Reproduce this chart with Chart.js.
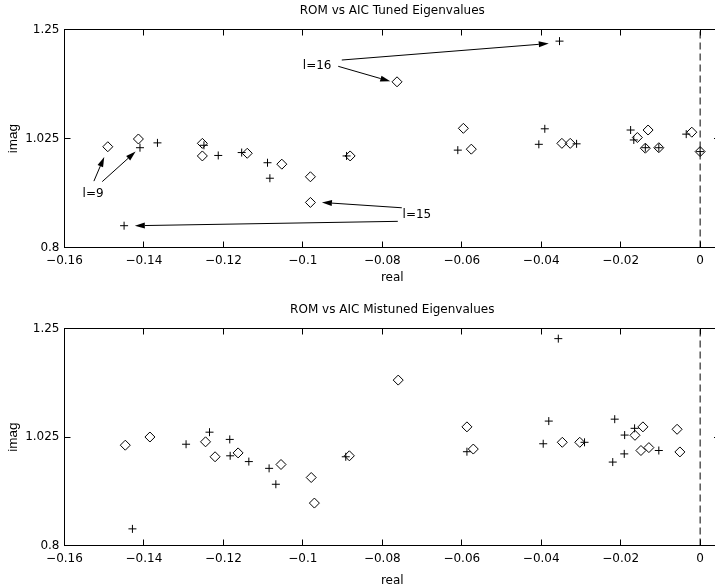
<!DOCTYPE html>
<html>
<head>
<meta charset="utf-8">
<script src="https://cdn.jsdelivr.net/npm/chart.js@4.4.6/dist/chart.umd.min.js"></script>
<style>
  html, body { margin: 0; padding: 0; background: #fff; overflow: hidden; }
  #wrap { position: relative; width: 715px; height: 588px; overflow: hidden; }
  canvas { position: absolute; left: 0; }
</style>
</head>
<body>
<div id="wrap">
  <canvas id="tuned" width="760" height="294" style="top:0"></canvas>
  <canvas id="mistuned" width="760" height="294" style="top:294px"></canvas>
</div>
<script>
// axes
const xMin = -0.16, xMax = 0.005;
const yMin = 0.8, yMax = 1.25;
const xTicks = [-0.16, -0.14, -0.12, -0.1, -0.08, -0.06, -0.04, -0.02, 0];
const yTicks = [0.8, 1.025, 1.25];

// tuned eigenvalues (diamonds = ROM, plus = AIC)
const tunedRomRe = [-0.1491, -0.1414, -0.1253, -0.1253, -0.1140, -0.1053, -0.0981, -0.0981, -0.0881, -0.0763,
                    -0.0596, -0.0576, -0.0348, -0.0327, -0.0158, -0.0131, -0.0138, -0.0104, -0.0021, 0.0000];
const tunedRomIm = [1.008, 1.024, 1.015, 0.989, 0.9945, 0.972, 0.946, 0.893, 0.989, 1.142,
                    1.046, 1.003, 1.015, 1.015, 1.027, 1.0425, 1.005, 1.006, 1.038, 0.998];
const tunedAicRe = [-0.1450, -0.1410, -0.1366, -0.1249, -0.1213, -0.1154, -0.1089, -0.1083, -0.0890, -0.0610,
                    -0.0406, -0.0391, -0.0354, -0.0311, -0.0175, -0.0167, -0.0138, -0.0104, -0.0035, 0.0000];
const tunedAicIm = [0.845, 1.006, 1.016, 1.011, 0.990, 0.996, 0.975, 0.943, 0.989, 1.001,
                    1.013, 1.045, 1.226, 1.014, 1.0425, 1.022, 1.006, 1.006, 1.034, 0.998];

// mistuned eigenvalues
const mistunedRomRe = [-0.1447, -0.1385, -0.1245, -0.1221, -0.1163, -0.1055, -0.0979, -0.0971, -0.0883, -0.0760,
                       -0.0587, -0.0571, -0.0347, -0.0303, -0.0164, -0.0144, -0.0149, -0.0129, -0.0058, -0.0051];
const mistunedRomIm = [1.008, 1.025, 1.015, 0.984, 0.992, 0.968, 0.941, 0.888, 0.986, 1.143,
                       1.046, 1.000, 1.014, 1.014, 1.0285, 1.046, 0.997, 1.003, 1.041, 0.994];
const mistunedAicRe = [-0.1429, -0.1294, -0.1235, -0.1184, -0.1183, -0.1136, -0.1085, -0.1068, -0.0892, -0.0587,
                       -0.0395, -0.0381, -0.0357, -0.0291, -0.0220, -0.0215, -0.0191, -0.0190, -0.0165, -0.0104];
const mistunedAicIm = [0.8345, 1.010, 1.035, 1.020, 0.986, 0.974, 0.960, 0.927, 0.984, 0.9945,
                       1.011, 1.058, 1.229, 1.014, 0.973, 1.062, 0.990, 1.029, 1.043, 0.997];

// annotations on the tuned plot, in data units: [fromRe, fromIm, toRe, toIm]
const tunedLabels = [
  { text: 'l=16', x: -0.0964, y: 1.174 },
  { text: 'l=15', x: -0.0713, y: 0.867 },
  { text: 'l=9',  x: -0.1528, y: 0.911 },
];
const tunedArrows = [
  [-0.0902, 1.187, -0.0381, 1.221],
  [-0.0911, 1.174, -0.0780, 1.143],
  [-0.0751, 0.882, -0.0952, 0.893],
  [-0.0761, 0.854, -0.1423, 0.845],
  [-0.1526, 0.937, -0.1500, 0.987],
  [-0.1505, 0.936, -0.1421, 0.998],
];

const FONT = 'DejaVu Sans';
Chart.defaults.font.family = FONT;
Chart.defaults.font.size = 12;
Chart.defaults.color = '#000';

const pts = (re, im) => re.map((v, i) => ({ x: v, y: im[i] }));

const notesPlugin = {
  id: 'notes',
  afterDatasetsDraw(chart, args, opts) {
    const { ctx, scales: { x, y } } = chart;
    ctx.save();
    ctx.strokeStyle = '#000';
    ctx.fillStyle = '#000';
    ctx.lineWidth = 1;
    (opts.arrows || []).forEach(([x1, y1, x2, y2]) => {
      const ax = x.getPixelForValue(x1), ay = y.getPixelForValue(y1);
      const bx = x.getPixelForValue(x2), by = y.getPixelForValue(y2);
      const ang = Math.atan2(by - ay, bx - ax), L = 10, W = 3;
      const hx = bx - L * Math.cos(ang), hy = by - L * Math.sin(ang);
      ctx.beginPath();
      ctx.moveTo(ax, ay);
      ctx.lineTo(hx, hy);
      ctx.stroke();
      ctx.beginPath();
      ctx.moveTo(bx, by);
      ctx.lineTo(hx + W * Math.sin(ang), hy - W * Math.cos(ang));
      ctx.lineTo(hx - W * Math.sin(ang), hy + W * Math.cos(ang));
      ctx.closePath();
      ctx.fill();
    });
    ctx.font = '12px "' + FONT + '"';
    ctx.textAlign = 'center';
    ctx.textBaseline = 'middle';
    (opts.labels || []).forEach(n => ctx.fillText(n.text, x.getPixelForValue(n.x), y.getPixelForValue(n.y)));
    ctx.restore();
  }
};

// matlab style box with inward ticks on all four sides
const framePlugin = {
  id: 'frame',
  afterDraw(chart) {
    const { ctx, chartArea: a, scales: { x, y } } = chart;
    const T = 6;
    ctx.save();
    ctx.strokeStyle = '#000';
    ctx.lineWidth = 1;
    ctx.strokeRect(a.left, a.top, a.right - a.left, a.bottom - a.top);
    ctx.beginPath();
    xTicks.forEach(v => {
      const p = Math.floor(x.getPixelForValue(v)) + 0.5;
      ctx.moveTo(p, a.bottom); ctx.lineTo(p, a.bottom - T);
      ctx.moveTo(p, a.top); ctx.lineTo(p, a.top + T);
    });
    yTicks.forEach(v => {
      const p = Math.floor(y.getPixelForValue(v)) + 0.5;
      ctx.moveTo(a.left, p); ctx.lineTo(a.left + T, p);
      ctx.moveTo(a.right, p); ctx.lineTo(a.right - T, p);
    });
    ctx.stroke();
    ctx.restore();
  }
};

function makeChart(id, cfg) {
  return new Chart(document.getElementById(id), {
    type: 'scatter',
    data: {
      datasets: [
        { label: 'ROM', data: pts(cfg.romRe, cfg.romIm), pointStyle: 'rectRot', pointRadius: 5,
          pointHoverRadius: 5, borderColor: '#000', backgroundColor: 'rgba(0,0,0,0)', borderWidth: 1 },
        { label: 'AIC', data: pts(cfg.aicRe, cfg.aicIm), pointStyle: 'cross', pointRadius: 4,
          pointHoverRadius: 4, borderColor: '#000', backgroundColor: '#000', borderWidth: 1 },
        { label: 'zero', data: [{ x: 0, y: yMin }, { x: 0, y: yMax }], showLine: true, pointRadius: 0,
          borderColor: '#000', borderWidth: 1, borderDash: [7, 4] },
      ]
    },
    options: {
      responsive: false,
      animation: false,
      events: [],
      layout: { padding: { left: 0, right: 40, top: 0, bottom: cfg.padBottom } },
      plugins: {
        legend: { display: false },
        tooltip: { enabled: false },
        title: { display: true, text: cfg.title, fullSize: false, color: '#000',
                 font: { size: 12, weight: 'normal' },
                 padding: { top: cfg.titleTop, bottom: cfg.titleBottom } },
        notes: { labels: cfg.labels, arrows: cfg.arrows },
      },
      scales: {
        x: {
          type: 'linear', min: xMin, max: xMax,
          grid: { display: false, drawTicks: false },
          border: { display: false },
          afterBuildTicks: s => { s.ticks = xTicks.map(v => ({ value: v })); },
          afterFit: s => { s.height = cfg.xAxisHeight; },
          ticks: { color: '#000', padding: 6, autoSkip: false, maxRotation: 0,
                   callback: v => v === 0 ? '0' : (v < 0 ? '\u2212' : '') + String(Math.abs(v)) },
          title: { display: true, text: 'real', color: '#000', padding: 0, font: { size: 12 } },
        },
        y: {
          type: 'linear', min: yMin, max: yMax,
          grid: { display: false, drawTicks: false },
          border: { display: false },
          afterBuildTicks: s => { s.ticks = yTicks.map(v => ({ value: v })); },
          afterFit: s => { s.width = 64.5; },
          ticks: { color: '#000', padding: 5, autoSkip: false, callback: v => String(v) },
          title: { display: true, text: 'imag', color: '#000', padding: { top: 5, bottom: 0 },
                   font: { family: 'Liberation Sans', size: 13.5 } },
        }
      }
    },
    plugins: [notesPlugin, framePlugin]
  });
}

makeChart('tuned', {
  title: 'ROM vs AIC Tuned Eigenvalues',
  romRe: tunedRomRe, romIm: tunedRomIm, aicRe: tunedAicRe, aicIm: tunedAicIm,
  labels: tunedLabels, arrows: tunedArrows,
  titleTop: 3.3, titleBottom: 11.8, xAxisHeight: 37.7, padBottom: 8.8,
});

makeChart('mistuned', {
  title: 'ROM vs AIC Mistuned Eigenvalues',
  romRe: mistunedRomRe, romIm: mistunedRomIm, aicRe: mistunedAicRe, aicIm: mistunedAicIm,
  labels: [], arrows: [],
  titleTop: 8.8, titleBottom: 11.3, xAxisHeight: 42.5, padBottom: 0,
});
</script>
</body>
</html>
